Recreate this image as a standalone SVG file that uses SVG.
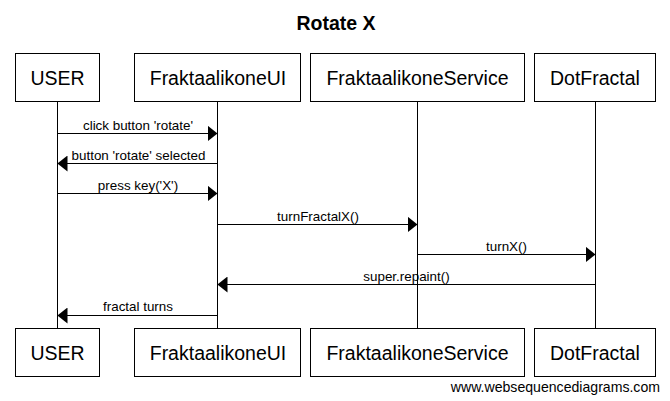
<svg xmlns="http://www.w3.org/2000/svg" width="670" height="401" viewBox="0 0 670 401">
<style>
  .box { fill: #ffffff; stroke: #000000; stroke-width: 1; }
  .life { stroke: #000000; stroke-width: 1; fill: none; }
  .msg { stroke: #000000; stroke-width: 1; fill: none; marker-end: url(#ah); }
  .name { font-family: "Liberation Sans", Arial, sans-serif; font-size: 19.5px; fill: #000; text-anchor: middle; }
  .lbl { font-family: "Liberation Sans", Arial, sans-serif; font-size: 13.4px; fill: #000; text-anchor: middle; }
  .title { font-family: "Liberation Sans", Arial, sans-serif; font-size: 19.5px; font-weight: bold; fill: #000; text-anchor: middle; }
  .wm { font-family: "Liberation Sans", Arial, sans-serif; font-size: 14.1px; fill: #000; text-anchor: end; }
</style>
<defs>
  <marker id="ah" markerUnits="userSpaceOnUse" markerWidth="10" markerHeight="16" refX="10" refY="8" orient="auto">
    <path d="M0,0 L10,8 L0,16 z" fill="#000"/>
  </marker>
</defs>
<rect width="670" height="401" fill="#ffffff"/>
<text class="title" x="336" y="30">Rotate X</text>

<g id="lifelines">
  <line class="life" x1="57.5" y1="102" x2="57.5" y2="328.5"/>
  <line class="life" x1="217.5" y1="102" x2="217.5" y2="328.5"/>
  <line class="life" x1="417.5" y1="102" x2="417.5" y2="328.5"/>
  <line class="life" x1="595.5" y1="102" x2="595.5" y2="328.5"/>
</g>

<g id="node-user">
  <rect class="box" x="15.5" y="53.5" width="84" height="48"/>
  <text class="name" x="57.5" y="85">USER</text>
  <rect class="box" x="15.5" y="328.5" width="84" height="48"/>
  <text class="name" x="57.5" y="360">USER</text>
</g>
<g id="node-ui">
  <rect class="box" x="134.5" y="53.5" width="166" height="48"/>
  <text class="name" x="218" y="85">FraktaalikoneUI</text>
  <rect class="box" x="134.5" y="328.5" width="166" height="48"/>
  <text class="name" x="218" y="360">FraktaalikoneUI</text>
</g>
<g id="node-service">
  <rect class="box" x="310.5" y="53.5" width="214" height="48"/>
  <text class="name" x="417.5" y="85">FraktaalikoneService</text>
  <rect class="box" x="310.5" y="328.5" width="214" height="48"/>
  <text class="name" x="417.5" y="360">FraktaalikoneService</text>
</g>
<g id="node-dotfractal">
  <rect class="box" x="534.5" y="53.5" width="121" height="48"/>
  <text class="name" x="595" y="85">DotFractal</text>
  <rect class="box" x="534.5" y="328.5" width="121" height="48"/>
  <text class="name" x="595" y="360">DotFractal</text>
</g>

<g id="connectors">
  <line class="msg" x1="57.5" y1="133.5" x2="217.5" y2="133.5"/>
  <text class="lbl" x="138" y="129.5">click button 'rotate'</text>

  <line class="msg" x1="217.5" y1="163.5" x2="57.5" y2="163.5"/>
  <text class="lbl" x="138.5" y="159.5">button 'rotate' selected</text>

  <line class="msg" x1="57.5" y1="193.5" x2="217.5" y2="193.5"/>
  <text class="lbl" x="138" y="189.5">press key('X')</text>

  <line class="msg" x1="217.5" y1="224.5" x2="417.5" y2="224.5"/>
  <text class="lbl" x="318" y="220.5">turnFractalX()</text>

  <line class="msg" x1="417.5" y1="254.5" x2="595.5" y2="254.5"/>
  <text class="lbl" x="506.5" y="250.5">turnX()</text>

  <line class="msg" x1="595.5" y1="284.5" x2="217.5" y2="284.5"/>
  <text class="lbl" x="406.5" y="280.5">super.repaint()</text>

  <line class="msg" x1="217.5" y1="315.5" x2="57.5" y2="315.5"/>
  <text class="lbl" x="138" y="311">fractal turns</text>
</g>

<text class="wm" x="660" y="391.5">www.websequencediagrams.com</text>
</svg>
